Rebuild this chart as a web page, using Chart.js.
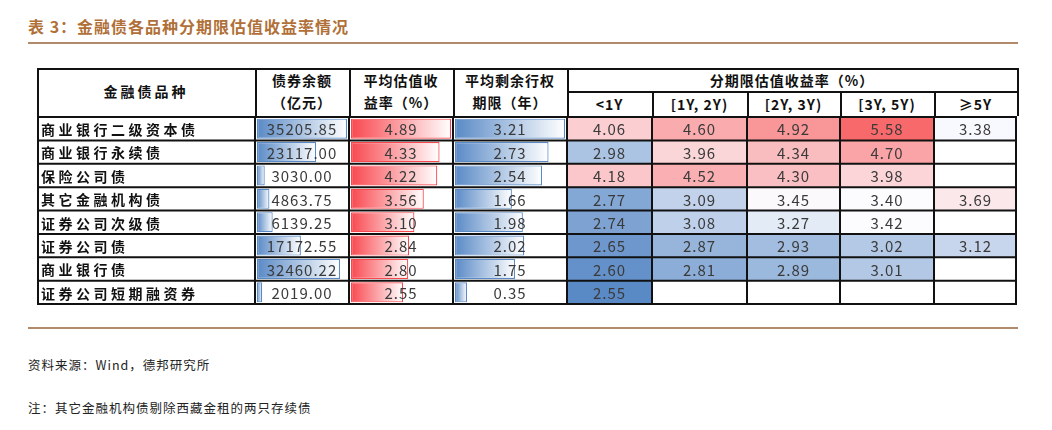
<!DOCTYPE html>
<html><head><meta charset="utf-8">
<script src="https://cdn.jsdelivr.net/npm/chart.js@4/dist/chart.umd.min.js"></script>
<style>
body{margin:0;width:1052px;height:430px;background:#fff;position:relative;font-family:"Noto Sans CJK SC",sans-serif;overflow:hidden}
.abs{position:absolute}
#title{left:28px;top:14px;font-size:16px;font-weight:bold;color:#b07038;letter-spacing:1px}
.rule{left:28px;width:990px;height:2px;background:#b08a6a}
.h{position:absolute;font-weight:bold;font-size:14px;text-align:center;line-height:22px;color:#111;letter-spacing:1px}
.note{left:28px;font-size:12.5px;color:#222;letter-spacing:1px}
#wrap{left:37px;top:116px;width:980px;height:189px}
</style></head><body>
<div id="title" class="abs">表 3：金融债各品种分期限估值收益率情况</div>
<div class="abs rule" style="top:42px"></div>
<div class="abs" style="left:37px;top:68px;width:978px;height:46px;border:2px solid #111;border-bottom:none"></div>
<div class="h" style="left:37px;top:80px;width:218px;letter-spacing:3px">金融债品种</div>
<div class="h" style="left:255px;top:69px;width:94px">债券余额<br>（亿元）</div>
<div class="h" style="left:349px;top:69px;width:104px">平均估值收<br>益率（%）</div>
<div class="h" style="left:453px;top:69px;width:114px">平均剩余行权<br>期限（年）</div>
<div class="h" style="left:567px;top:69px;width:450px">分期限估值收益率（%）</div>
<div class="h" style="left:567px;top:93px;width:85px">&lt;1Y</div>
<div class="h" style="left:652px;top:93px;width:95px">[1Y, 2Y)</div>
<div class="h" style="left:747px;top:93px;width:93px">[2Y, 3Y)</div>
<div class="h" style="left:840px;top:93px;width:94px">[3Y, 5Y)</div>
<div class="h" style="left:934px;top:93px;width:83px">≥5Y</div>
<div class="abs" style="left:255px;top:68px;width:2px;height:48px;background:#111"></div>
<div class="abs" style="left:349px;top:68px;width:2px;height:48px;background:#111"></div>
<div class="abs" style="left:453px;top:68px;width:2px;height:48px;background:#111"></div>
<div class="abs" style="left:567px;top:68px;width:2px;height:48px;background:#111"></div>
<div class="abs" style="left:567px;top:91px;width:450px;height:2px;background:#111"></div>
<div class="abs" style="left:652px;top:92px;width:2px;height:24px;background:#111"></div>
<div class="abs" style="left:747px;top:92px;width:2px;height:24px;background:#111"></div>
<div class="abs" style="left:840px;top:92px;width:2px;height:24px;background:#111"></div>
<div class="abs" style="left:934px;top:92px;width:2px;height:24px;background:#111"></div>
<div id="wrap" class="abs"><canvas id="c"></canvas></div>
<div class="abs rule" style="top:327px"></div>
<div class="abs note" style="top:355px">资料来源：Wind，德邦研究所</div>
<div class="abs note" style="top:398px">注：其它金融机构债剔除西藏金租的两只存续债</div>
<script>
const bondTypes = ["商业银行二级资本债","商业银行永续债","保险公司债","其它金融机构债","证券公司次级债","证券公司债","商业银行债","证券公司短期融资券"];
const balance = [35205.85,23117.00,3030.00,4863.75,6139.25,17172.55,32460.22,2019.00];
const avgYield = [4.89,4.33,4.22,3.56,3.10,2.84,2.80,2.55];
const avgTerm = [3.21,2.73,2.54,1.66,1.98,2.02,1.75,0.35];
const yLt1 = [4.06,2.98,4.18,2.77,2.74,2.65,2.60,2.55];
const y1to2 = [4.60,3.96,4.52,3.09,3.08,2.87,2.81,null];
const y2to3 = [4.92,4.34,4.30,3.45,3.27,2.93,2.89,null];
const y3to5 = [5.58,4.70,3.98,3.40,3.42,3.02,3.01,null];
const yGe5 = [3.38,null,null,3.69,null,3.12,null,null];

// column edges in table units (pixels from the table's left edge)
const edges = [0,218,312,416,530,615,710,803,897,980];
const bucketCols = [yLt1,y1to2,y2to3,y3to5,yGe5];

const allY = bucketCols.flat().filter(v => v != null);
const yMin = Math.min(...allY), yMax = Math.max(...allY);
const yMid = 3.4; // white point of the colour scale
function mix(a,b,t){return a.map((v,i)=>Math.round(v+(b[i]-v)*t));}
function heat(v){
  if (v == null) return "rgba(0,0,0,0)";
  const blue=[90,138,198], white=[252,252,255], red=[248,105,107];
  const c = v < yMid ? mix(blue,white,(v-yMin)/(yMid-yMin)) : mix(white,red,(v-yMid)/(yMax-yMid));
  return `rgb(${c})`;
}

function barSet(values, col, colour){
  const max = Math.max(...values);
  const x0 = edges[col] + 2, w = edges[col+1] - edges[col] - 4;
  return {
    data: values.map(v => [x0, x0 + v / max * w]),
    grouped:false, barPercentage:0.86, categoryPercentage:1,
    borderColor: colour, borderWidth:1.2, borderSkipped:false,
    backgroundColor: (ctx) => {
      const ch = ctx.chart, d = ctx.raw;
      if (!ch.chartArea || !d) return colour;
      const xs = ch.scales.x;
      const g = ch.ctx.createLinearGradient(xs.getPixelForValue(d[0]),0,xs.getPixelForValue(d[1]),0);
      g.addColorStop(0, colour); g.addColorStop(1, "#ffffff");
      return g;
    }
  };
}

const datasets = [
  barSet(balance, 1, "#5a8ac6"),
  barSet(avgYield, 2, "#f8484f"),
  barSet(avgTerm, 3, "#5a8ac6"),
  ...bucketCols.map((vals,i) => ({
    data: vals.map(v => v == null ? null : [edges[4+i], edges[5+i]]),
    backgroundColor: vals.map(heat),
    grouped:false, barPercentage:1, categoryPercentage:1, borderWidth:0
  }))
];

const textCols = [balance.map(v=>v.toFixed(2)), avgYield.map(v=>v.toFixed(2)), avgTerm.map(v=>v.toFixed(2)),
  ...bucketCols.map(c => c.map(v => v == null ? "" : v.toFixed(2)))];

const tablePlugin = {
  id:"table",
  afterDatasetsDraw(chart){
    const {ctx, scales:{x,y}, chartArea:a} = chart;
    const step = y.getPixelForValue(1) - y.getPixelForValue(0);
    ctx.save();
    ctx.textBaseline = "middle";
    bondTypes.forEach((name,r) => {
      const cy = y.getPixelForValue(r);
      ctx.font = "bold 14px 'Noto Sans CJK SC'";
      ctx.letterSpacing = "3.5px";
      ctx.fillStyle = "#111"; ctx.textAlign = "left";
      ctx.fillText(name, x.getPixelForValue(4), cy + 1);
      ctx.font = "15px 'Noto Sans CJK SC'";
      ctx.letterSpacing = "1px";
      ctx.textAlign = "center"; ctx.fillStyle = "#3a3a3a";
      textCols.forEach((col,c) => {
        ctx.fillText(col[r], (x.getPixelForValue(edges[c+1]) + x.getPixelForValue(edges[c+2])) / 2, cy + 1);
      });
    });
    ctx.strokeStyle = "#111"; ctx.lineWidth = 2;
    for (let r = 0; r <= bondTypes.length; r++) {
      const py = y.getPixelForValue(r) - step/2;
      ctx.beginPath(); ctx.moveTo(a.left, py); ctx.lineTo(a.right, py); ctx.stroke();
    }
    edges.forEach(e => {
      const px = Math.min(Math.max(x.getPixelForValue(e), a.left+1), a.right-1);
      ctx.beginPath(); ctx.moveTo(px, a.top); ctx.lineTo(px, a.bottom); ctx.stroke();
    });
    ctx.restore();
  }
};

new Chart(document.getElementById("c"), {
  type:"bar",
  data:{ labels: bondTypes, datasets },
  options:{
    indexAxis:"y", responsive:true, maintainAspectRatio:false, animation:false,
    layout:{padding:{top:1,bottom:1,left:0,right:0}},
    plugins:{legend:{display:false}, tooltip:{enabled:false}},
    scales:{
      x:{type:"linear", min:0, max:980, display:false},
      y:{display:false}
    }
  },
  plugins:[tablePlugin]
});
</script>
</body></html>
